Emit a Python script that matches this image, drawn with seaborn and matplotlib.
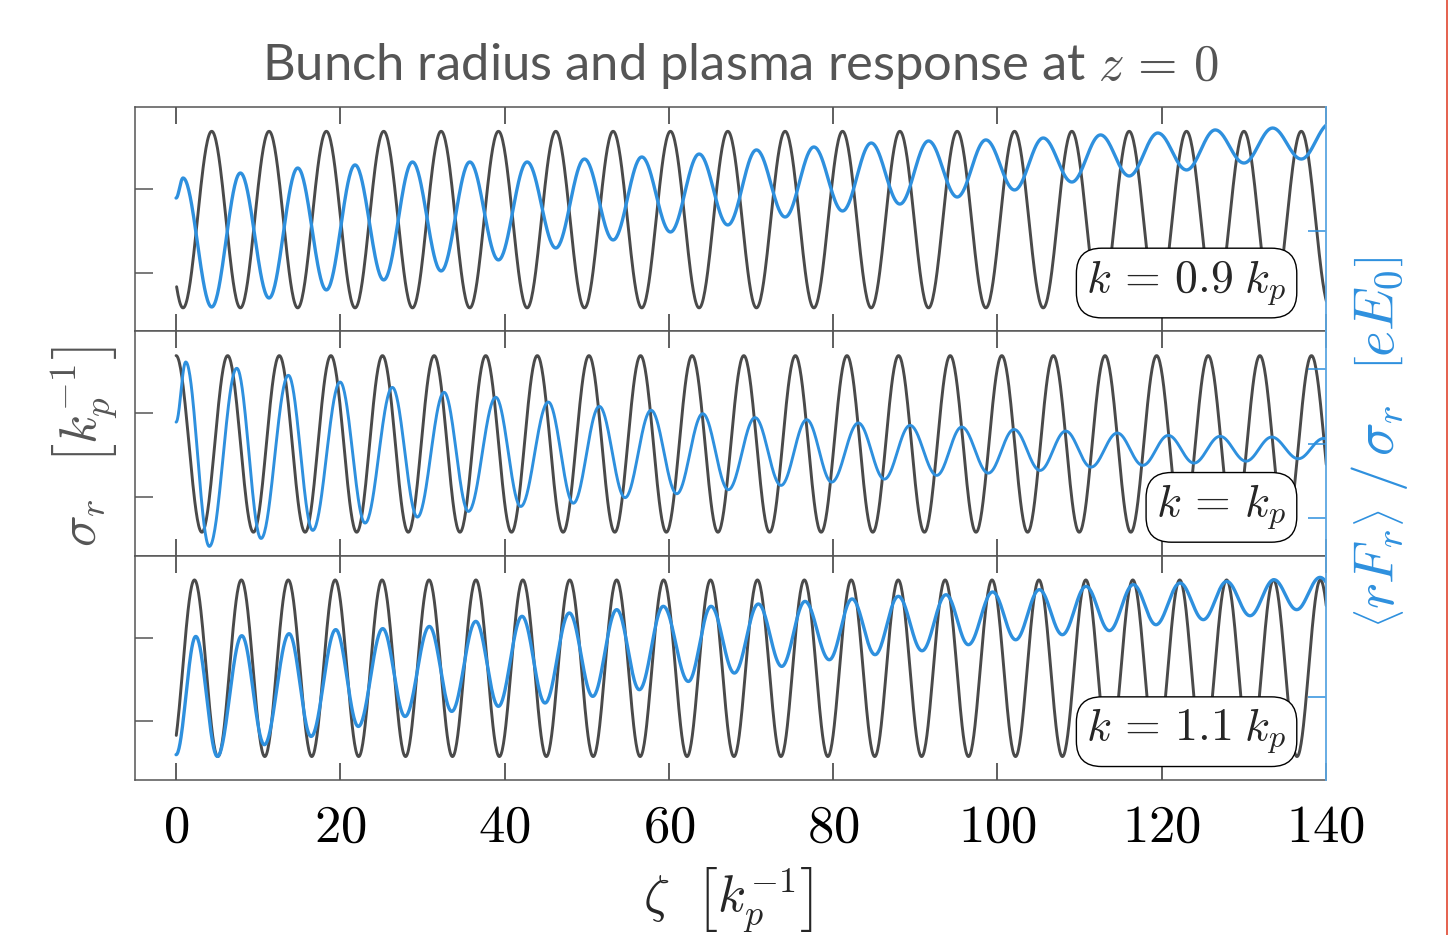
import numpy as np
import matplotlib
matplotlib.use("Agg")
import matplotlib.pyplot as plt
import seaborn as sns
from matplotlib.ticker import FuncFormatter
from matplotlib.lines import Line2D

# ---- values ----
panel_labels = [r"$k\, =\, 0.9\; k_p$", r"$k\, =\, k_p$", r"$k\, =\, 1.1\; k_p$"]

# bunch radius sigma_r: alternating extrema (zeta positions), levels of peaks / troughs
sigma_peak = 1.069
sigma_trough = 0.858
black_zeta_09 = [-2.64, 0.85, 4.34, 7.83, 11.32, 14.81, 18.30, 21.79, 25.28, 28.78, 32.27,
                 35.76, 39.25, 42.74, 46.23, 49.72, 53.21, 56.70, 60.19, 63.68, 67.17,
                 70.66, 74.15, 77.65, 81.14, 84.63, 88.12, 91.61, 95.10, 98.59, 102.08,
                 105.57, 109.06, 112.55, 116.04, 119.53, 123.02, 126.52, 130.01, 133.50,
                 136.99, 140.48]
black_zeta_10 = [-3.14, 0.00, 3.14, 6.28, 9.42, 12.57, 15.71, 18.85, 21.99, 25.13, 28.27,
                 31.42, 34.56, 37.70, 40.84, 43.98, 47.12, 50.27, 53.41, 56.55, 59.69,
                 62.83, 65.97, 69.12, 72.26, 75.40, 78.54, 81.68, 84.82, 87.96, 91.11,
                 94.25, 97.39, 100.53, 103.67, 106.81, 109.96, 113.10, 116.24, 119.38,
                 122.52, 125.66, 128.81, 131.95, 135.09, 138.23, 141.37]
black_zeta_11 = [-0.62, 2.24, 5.09, 7.95, 10.80, 13.66, 16.52, 19.37, 22.23, 25.08, 27.94,
                 30.80, 33.65, 36.51, 39.36, 42.22, 45.08, 47.93, 50.79, 53.64, 56.50,
                 59.36, 62.21, 65.07, 67.92, 70.78, 73.64, 76.49, 79.35, 82.20, 85.06,
                 87.92, 90.77, 93.63, 96.48, 99.34, 102.20, 105.05, 107.91, 110.76,
                 113.62, 116.48, 119.33, 122.19, 125.04, 127.90, 130.76, 133.61, 136.47,
                 139.32, 142.18]
black_first = ["peak", "trough", "trough"]   # kind of the first listed extremum

# plasma response <rF_r>/sigma_r: start point + extrema
blue_zeta_09 = [0.0] + black_zeta_09[1:]
blue_val_09 = [0.26, 0.416, -0.59, 0.455, -0.52, 0.494, -0.457, 0.518, -0.379, 0.541,
               -0.309, 0.541, -0.223, 0.541, -0.130, 0.564, -0.067, 0.580, -0.005, 0.603,
               0.050, 0.635, 0.112, 0.658, 0.159, 0.689, 0.213, 0.705, 0.268, 0.713,
               0.323, 0.728, 0.385, 0.752, 0.432, 0.767, 0.479, 0.791, 0.533, 0.806,
               0.564, 0.840]

blue_zeta_10 = [0.0, 1.18, 4.05, 7.39, 10.35, 13.67, 16.64, 19.97, 23.01, 26.33, 29.38,
                32.63, 35.59, 38.92, 41.96, 45.32, 48.37, 51.53, 54.66, 57.83, 60.96,
                64.12, 67.24, 70.49, 73.65, 76.78, 79.82, 83.06, 86.23, 89.36, 92.61,
                95.65, 98.89, 102.02, 105.18, 108.31, 111.39, 114.59, 117.69, 120.80,
                123.93, 127.10, 130.26, 133.39, 136.63, 139.71, 142.80]
blue_val_10 = [0.143, 0.545, -0.688, 0.503, -0.635, 0.456, -0.581, 0.411, -0.532, 0.375,
               -0.492, 0.342, -0.454, 0.309, -0.421, 0.277, -0.399, 0.248, -0.362, 0.222,
               -0.336, 0.199, -0.309, 0.173, -0.280, 0.159, -0.258, 0.137, -0.238, 0.121,
               -0.213, 0.110, -0.198, 0.094, -0.180, 0.083, -0.158, 0.070, -0.146, 0.054,
               -0.131, 0.048, -0.118, 0.043, -0.102, 0.034, -0.090]

blue_zeta_11 = [0.0, 2.40, 5.03, 8.00, 10.75, 13.76, 16.44, 19.44, 22.19, 25.16, 27.88,
                30.84, 33.56, 36.49, 39.24, 42.12, 44.92, 47.88, 50.73, 53.65, 56.40,
                59.32, 62.37, 65.13, 67.97, 70.89, 73.74, 76.57, 79.53, 82.30, 85.10,
                87.93, 90.82, 93.74, 96.46, 99.42, 102.22, 105.10, 107.90, 110.78,
                113.62, 116.54, 119.30, 122.23, 125.06, 127.91, 130.75, 133.67, 136.43,
                139.27, 142.10]
blue_val_11 = [-0.398, 0.419, -0.410, 0.424, -0.329, 0.438, -0.272, 0.466, -0.203, 0.473,
               -0.134, 0.488, -0.099, 0.523, -0.064, 0.558, -0.041, 0.581, 0.005, 0.604,
               0.051, 0.627, 0.108, 0.627, 0.166, 0.643, 0.212, 0.661, 0.258, 0.678,
               0.293, 0.696, 0.320, 0.707, 0.362, 0.726, 0.396, 0.742, 0.431, 0.765,
               0.459, 0.777, 0.500, 0.788, 0.535, 0.799, 0.562, 0.811, 0.604, 0.827,
               0.620]

x_ticks = [0, 20, 40, 60, 80, 100, 120, 140]
sigma_ticks = [0.9, 1.0]
right_ticks = [[0.0], [-0.5, 0.0, 0.5], [0.0]]
right_limits = [(-0.78, 0.97), (-0.75, 0.75), (-0.573, 0.977)]

BLACK = "#4a4a4a"
BLUE = "#2e90de"
GRAY = "#555555"


def smooth_path(zeta, vals, n=40):
    # join consecutive extrema by half-cosine arcs
    xs, ys = [], []
    for i in range(len(zeta) - 1):
        t = np.linspace(0, 1, n, endpoint=False)
        xs.append(zeta[i] + t * (zeta[i + 1] - zeta[i]))
        ys.append(vals[i] + (vals[i + 1] - vals[i]) * (1 - np.cos(np.pi * t)) / 2)
    xs.append([zeta[-1]])
    ys.append([vals[-1]])
    x = np.concatenate(xs)
    y = np.concatenate(ys)
    keep = x >= 0
    return x[keep], y[keep]


def levels(zeta, first):
    a, b = (sigma_peak, sigma_trough) if first == "peak" else (sigma_trough, sigma_peak)
    return [a if i % 2 == 0 else b for i in range(len(zeta))]


sns.set_style("white")
plt.rcParams["font.family"] = ["Lato", "DejaVu Sans"]
plt.rcParams["mathtext.fontset"] = "cm"

fig, axes = plt.subplots(3, 1, figsize=(14.51, 9.35), dpi=100, sharex=True)
fig.subplots_adjust(left=135 / 1451, right=1326 / 1451, top=1 - 107 / 935,
                    bottom=1 - 780 / 935, hspace=0)

black_sets = [black_zeta_09, black_zeta_10, black_zeta_11]
blue_sets = [(blue_zeta_09, blue_val_09), (blue_zeta_10, blue_val_10),
             (blue_zeta_11, blue_val_11)]
blue_widths = [2.4, 2.1, 2.4]

for i, ax in enumerate(axes):
    bz = black_sets[i]
    x, y = smooth_path(bz, levels(bz, black_first[i]))
    sns.lineplot(x=x, y=y, ax=ax, color=BLACK, lw=2.1, estimator=None, sort=False)
    ax.set_xlim(-5, 140)
    ax.set_ylim(0.830, 1.098)
    ax.set_yticks(sigma_ticks)
    ax.set_yticklabels([])
    ax.set_xticks(x_ticks)
    ax.tick_params(axis="x", top=True, bottom=True, direction="in", length=12,
                   width=1.1, color="#333333")
    ax.tick_params(axis="y", direction="in", length=13, width=1.1, color=GRAY)
    for s in ["left", "top", "bottom"]:
        ax.spines[s].set_color(GRAY)
        ax.spines[s].set_linewidth(1.1)
    ax.spines["right"].set_visible(False)

    axr = ax.twinx()
    zz, vv = blue_sets[i]
    x, y = smooth_path(zz, vv)
    sns.lineplot(x=x, y=y, ax=axr, color=BLUE, lw=blue_widths[i], estimator=None,
                 sort=False)
    axr.set_ylim(*right_limits[i])
    axr.set_yticks(right_ticks[i])
    axr.set_yticklabels([])
    axr.tick_params(axis="y", direction="in", length=13, width=1.1, color=BLUE)
    axr.spines["right"].set_color("#5aa6e2")
    axr.spines["right"].set_linewidth(1.3)
    for s in ["left", "top", "bottom"]:
        axr.spines[s].set_visible(False)
    axr.set_xlim(-5, 140)

    ax.text(0.967, 0.105, panel_labels[i], transform=ax.transAxes, ha="right",
            va="bottom", fontsize=33, zorder=10,
            bbox=dict(boxstyle="round,pad=0.22,rounding_size=0.55", fc="white",
                      ec="black", lw=1.0))

axes[-1].xaxis.set_major_formatter(FuncFormatter(lambda v, p: rf"${int(v)}$"))
axes[-1].tick_params(axis="x", labelsize=38, pad=17, labelcolor="black")

fig.text(740 / 1451, 1 - 66 / 935, r"Bunch radius and plasma response at $z\, =\, 0$",
         ha="center", va="center", fontsize=36.5, color=GRAY)
fig.text(728 / 1451, 1 - 900 / 935, r"$\zeta\ \ \left[k_p^{-1}\right]$",
         ha="center", va="center", fontsize=37)
fig.text(85 / 1451, 1 - 447 / 935, r"$\sigma_r\ \ \left[k_p^{-1}\right]$",
         ha="center", va="center", fontsize=38, rotation=90, color=GRAY)
fig.text(1380 / 1451, 1 - 442 / 935,
         r"$\left\langle rF_r\right\rangle\ /\,\sigma_r\ \ \left[eE_0\right]$",
         ha="center", va="center", fontsize=40, rotation=90, color=BLUE)

fig.add_artist(Line2D([1447 / 1451, 1447 / 1451], [0, 1], color="#e0452f", lw=1.2))

fig.savefig("out.png", dpi=100)
